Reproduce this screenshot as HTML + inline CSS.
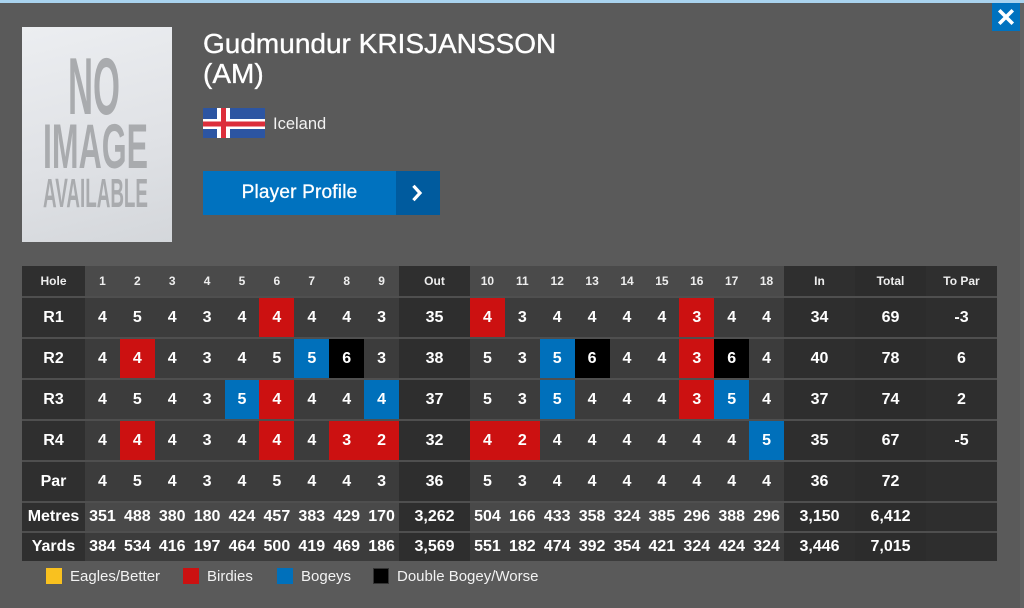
<!DOCTYPE html>
<html>
<head>
<meta charset="utf-8">
<style>
html,body{margin:0;padding:0;}
body{width:1024px;height:608px;background:#5a5a5a;position:relative;overflow:hidden;font-family:"Liberation Sans",Arial,sans-serif;}
.topbar{position:absolute;left:0;top:0;width:1024px;height:3px;background:#a9d3ef;}
.rstrip{position:absolute;left:1020px;top:3px;width:4px;height:605px;background:#626262;}
.close{position:absolute;left:992px;top:3px;width:28px;height:28px;background:#0072bf;}
.photo{position:absolute;left:22px;top:27px;width:150px;height:215px;background:linear-gradient(165deg,#eceef1 0%,#dfe1e5 60%,#d4d7db 100%);}
.name{position:absolute;left:203px;top:29px;color:#fff;font-size:28px;line-height:30px;-webkit-text-stroke:0.35px #fff;white-space:nowrap;}
.flag{position:absolute;left:203px;top:108px;width:62px;height:30px;}
.country{position:absolute;left:273px;top:115px;color:#f2f2f2;font-size:16.5px;line-height:18px;}
.btn{position:absolute;left:203px;top:171px;width:193px;height:44px;background:#0072bf;color:#fff;font-size:19px;line-height:44px;text-align:center;-webkit-text-stroke:0.3px #fff;letter-spacing:0.2px;}
.btn2{position:absolute;left:396px;top:171px;width:44px;height:44px;background:#005b9e;}
.tbl{position:absolute;left:22px;top:266px;width:975px;background:#4f4f4f;}
.r{display:grid;grid-template-columns:63px repeat(9,1fr) 71px repeat(9,1fr) 71px 71px 71px;height:39px;margin-bottom:2px;}
.r>div{display:flex;align-items:center;justify-content:center;background:#3c3c3c;color:#fff;font-weight:bold;font-size:16px;}
.r>div.l{background:#2f2f2f;}
.r>div.t{background:#2e2e2e;}
.r>div.tt{background:#2c2c2c;}
.hd{height:30px;}
.hd>div{background:#4a4a4a !important;font-size:12px !important;color:#eee !important;}
.hd>div.l,.hd>div.t{background:#2f2f2f !important;}
.hd>div.tt{background:#2c2c2c !important;}
.mt{height:28px;}
.mt>div{background:#494949;}
.yd{height:28px;margin-bottom:0;}
.r>div.R{background:#cc1111;}
.r>div.B{background:#0070bb;}
.r>div.K{background:#000;}
.leg{position:absolute;top:568px;width:16px;height:16px;box-sizing:border-box;}
.lt{position:absolute;top:568px;color:#f2f2f2;font-size:15px;line-height:17px;white-space:nowrap;}
</style>
</head>
<body>
<div class="topbar"></div>
<div class="rstrip"></div>
<div class="close">
<svg width="28" height="28" viewBox="0 0 28 28"><path d="M8.5 8.5 L19.5 19.5 M19.5 8.5 L8.5 19.5" stroke="#fff" stroke-width="3.6" stroke-linecap="square"/></svg>
</div>

<div class="photo">
<svg width="150" height="215" viewBox="0 0 150 215">
<text x="46" y="87" font-family="Liberation Sans, sans-serif" font-weight="bold" font-size="81" fill="#a9abae" textLength="52" lengthAdjust="spacingAndGlyphs">NO</text>
<text x="21" y="141" font-family="Liberation Sans, sans-serif" font-weight="bold" font-size="63" fill="#a9abae" textLength="105" lengthAdjust="spacingAndGlyphs">IMAGE</text>
<text x="21" y="180" font-family="Liberation Sans, sans-serif" font-weight="bold" font-size="41" fill="#a9abae" textLength="105" lengthAdjust="spacingAndGlyphs">AVAILABLE</text>
</svg>
</div>

<div class="name">Gudmundur KRISJANSSON<br>(AM)</div>

<svg class="flag" viewBox="0 0 62 30">
<rect width="62" height="30" fill="#2c55a2"/>
<rect x="14" y="0" width="13" height="30" fill="#fff"/>
<rect x="0" y="11" width="62" height="10" fill="#fff"/>
<rect x="18" y="0" width="5" height="30" fill="#dc2e3b"/>
<rect x="0" y="13.5" width="62" height="5" fill="#dc2e3b"/>
</svg>
<div class="country">Iceland</div>

<div class="btn">Player Profile</div>
<div class="btn2"><svg width="44" height="44" viewBox="0 0 44 44"><path d="M18.5 16 L24 22 L18.5 28" stroke="#fff" stroke-width="3.2" fill="none" stroke-linecap="square"/></svg></div>

<div class="tbl">
<div class="r hd"><div class="l">Hole</div><div>1</div><div>2</div><div>3</div><div>4</div><div>5</div><div>6</div><div>7</div><div>8</div><div>9</div><div class="t">Out</div><div>10</div><div>11</div><div>12</div><div>13</div><div>14</div><div>15</div><div>16</div><div>17</div><div>18</div><div class="t">In</div><div class="tt">Total</div><div class="t">To Par</div></div>
<div class="r"><div class="l">R1</div><div>4</div><div>5</div><div>4</div><div>3</div><div>4</div><div class="R">4</div><div>4</div><div>4</div><div>3</div><div class="t">35</div><div class="R">4</div><div>3</div><div>4</div><div>4</div><div>4</div><div>4</div><div class="R">3</div><div>4</div><div>4</div><div class="t">34</div><div class="tt">69</div><div class="t">-3</div></div>
<div class="r"><div class="l">R2</div><div>4</div><div class="R">4</div><div>4</div><div>3</div><div>4</div><div>5</div><div class="B">5</div><div class="K">6</div><div>3</div><div class="t">38</div><div>5</div><div>3</div><div class="B">5</div><div class="K">6</div><div>4</div><div>4</div><div class="R">3</div><div class="K">6</div><div>4</div><div class="t">40</div><div class="tt">78</div><div class="t">6</div></div>
<div class="r"><div class="l">R3</div><div>4</div><div>5</div><div>4</div><div>3</div><div class="B">5</div><div class="R">4</div><div>4</div><div>4</div><div class="B">4</div><div class="t">37</div><div>5</div><div>3</div><div class="B">5</div><div>4</div><div>4</div><div>4</div><div class="R">3</div><div class="B">5</div><div>4</div><div class="t">37</div><div class="tt">74</div><div class="t">2</div></div>
<div class="r"><div class="l">R4</div><div>4</div><div class="R">4</div><div>4</div><div>3</div><div>4</div><div class="R">4</div><div>4</div><div class="R">3</div><div class="R">2</div><div class="t">32</div><div class="R">4</div><div class="R">2</div><div>4</div><div>4</div><div>4</div><div>4</div><div>4</div><div>4</div><div class="B">5</div><div class="t">35</div><div class="tt">67</div><div class="t">-5</div></div>
<div class="r"><div class="l">Par</div><div>4</div><div>5</div><div>4</div><div>3</div><div>4</div><div>5</div><div>4</div><div>4</div><div>3</div><div class="t">36</div><div>5</div><div>3</div><div>4</div><div>4</div><div>4</div><div>4</div><div>4</div><div>4</div><div>4</div><div class="t">36</div><div class="tt">72</div><div class="t"></div></div>
<div class="r mt"><div class="l">Metres</div><div>351</div><div>488</div><div>380</div><div>180</div><div>424</div><div>457</div><div>383</div><div>429</div><div>170</div><div class="t">3,262</div><div>504</div><div>166</div><div>433</div><div>358</div><div>324</div><div>385</div><div>296</div><div>388</div><div>296</div><div class="t">3,150</div><div class="tt">6,412</div><div class="t"></div></div>
<div class="r yd"><div class="l">Yards</div><div>384</div><div>534</div><div>416</div><div>197</div><div>464</div><div>500</div><div>419</div><div>469</div><div>186</div><div class="t">3,569</div><div>551</div><div>182</div><div>474</div><div>392</div><div>354</div><div>421</div><div>324</div><div>424</div><div>324</div><div class="t">3,446</div><div class="tt">7,015</div><div class="t"></div></div>
</div>

<div class="leg" style="left:46px;background:#f9c11f;"></div>
<div class="lt" style="left:70px;">Eagles/Better</div>
<div class="leg" style="left:183px;background:#cc1111;"></div>
<div class="lt" style="left:207px;">Birdies</div>
<div class="leg" style="left:277px;background:#0070bb;"></div>
<div class="lt" style="left:301px;">Bogeys</div>
<div class="leg" style="left:373px;background:#000;border:1px solid #333;"></div>
<div class="lt" style="left:397px;">Double Bogey/Worse</div>
</body>
</html>
